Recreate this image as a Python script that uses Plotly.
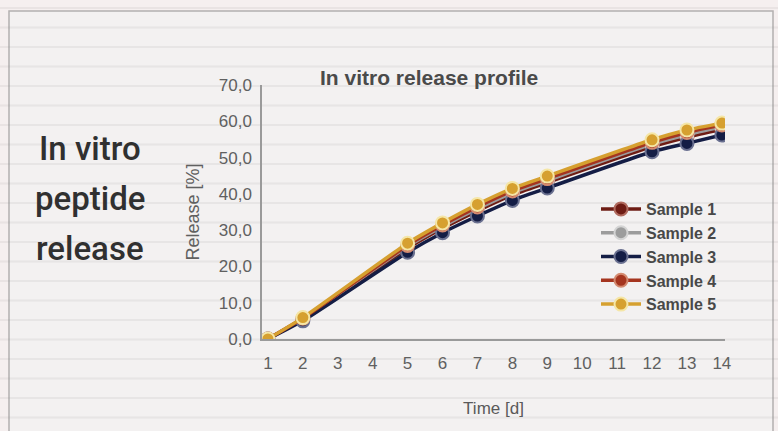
import plotly.graph_objects as go

# Release data (days vs cumulative release, %)
days = [1, 2, 5, 6, 7, 8, 9, 12, 13, 14]
sample_1 = [0.0, 5.5, 25.0, 30.5, 35.3, 39.7, 43.1, 53.0, 55.6, 57.8]
sample_2 = [0.0, 5.6, 25.5, 31.0, 35.9, 40.3, 43.7, 53.7, 56.3, 58.5]
sample_3 = [0.0, 5.0, 23.9, 29.3, 33.9, 38.2, 41.6, 51.6, 53.9, 56.2]
sample_4 = [0.0, 5.7, 25.8, 31.4, 36.4, 40.8, 44.2, 54.2, 56.9, 59.0]
sample_5 = [0.0, 5.9, 26.4, 32.0, 37.1, 41.5, 44.9, 54.9, 57.6, 59.5]

series_names = ["Sample 1", "Sample 2", "Sample 3", "Sample 4", "Sample 5"]
series_values = [sample_1, sample_2, sample_3, sample_4, sample_5]
line_colors = ["#6e1c14", "#9c9c9c", "#141d45", "#a5351f", "#d6a030"]
halo_colors = ["#b06a5e", "#d4d4d4", "#6a7090", "#d48a70", "#f5e6a6"]

y_ticks = [0, 10, 20, 30, 40, 50, 60, 70]
y_tick_labels = ["0,0", "10,0", "20,0", "30,0", "40,0", "50,0", "60,0", "70,0"]
x_ticks = list(range(1, 15))

side_title = ["In vitro", "peptide", "release"]

W, H = 778, 431
PL, PR, PT, PB = 262, 725, 85, 339  # plot-area edges in pixels


def px(x):
    """pixel column -> paper x"""
    return (x - PL) / (PR - PL)


def py(y):
    """pixel row (from top) -> paper y"""
    return (PB - y) / (PB - PT)


fig = go.Figure()
for name, vals, lc, hc in zip(series_names, series_values, line_colors, halo_colors):
    fig.add_trace(go.Scatter(
        x=days, y=vals, name=name, mode="lines+markers",
        line=dict(color=lc, width=3.5, shape="spline", smoothing=0.6),
        marker=dict(size=13, color=lc, line=dict(color=hc, width=2)),
    ))

shapes = []
# slide frame
shapes.append(dict(type="rect", xref="paper", yref="paper",
                   x0=px(9), x1=px(773), y0=py(H + 5), y1=py(11),
                   fillcolor="#f3f1f1", line=dict(color="#b3b0b0", width=1.5),
                   layer="below"))
# faint horizontal banding across the slide
y = 8
while y < H:
    shapes.append(dict(type="line", xref="paper", yref="paper",
                       x0=px(0), x1=px(W), y0=py(y), y1=py(y),
                       line=dict(color="rgba(140,140,140,0.11)", width=2),
                       layer="below"))
    y += 19.5

annotations = [
    dict(text="<b>In vitro release profile</b>", xref="paper", yref="paper",
         x=px(429), y=py(77), showarrow=False, xanchor="center", yanchor="middle",
         font=dict(family="Liberation Sans, Arial, sans-serif", size=21, color="#4a4a4a"),
         ),
]
for i, line in enumerate(side_title):
    annotations.append(dict(
        text=line, xref="paper", yref="paper",
        x=px(90), y=py(148 + 50 * i), showarrow=False, xanchor="center", yanchor="middle",
        font=dict(family="Roboto, Liberation Sans, Arial, sans-serif", weight=500,
                  size=33, color="#303030"),
    ))

fig.update_layout(
    width=W, height=H,
    margin=dict(l=PL, r=W - PR, t=PT, b=H - PB),
    paper_bgcolor="#f5efef",
    plot_bgcolor="rgba(0,0,0,0)",
    font=dict(family="Liberation Sans, Arial, sans-serif", color="#555555", size=17),
    shapes=shapes,
    annotations=annotations,
    showlegend=True,
    legend=dict(x=px(596), y=py(192), xanchor="left", yanchor="top",
                bgcolor="rgba(0,0,0,0)", itemwidth=40, tracegroupgap=0,
                font=dict(size=16, color="#484848", weight="bold",
                          family="Liberation Sans, Arial, sans-serif")),
    xaxis=dict(range=[0.83, 14.09], tickvals=x_ticks, showgrid=False, zeroline=False,
               showline=True, linecolor="#9a9a9a", linewidth=2, ticks="",
               ticklabelstandoff=8,
               tickfont=dict(size=17, color="#606060"),
               title=dict(text="Time [d]", font=dict(size=17, color="#5a5a5a"), standoff=30)),
    yaxis=dict(range=[0, 70], tickvals=y_ticks, ticktext=y_tick_labels, showgrid=False,
               zeroline=False, showline=True, linecolor="#9a9a9a", linewidth=1.5, ticks="",
               ticklabelstandoff=5,
               tickfont=dict(size=17, color="#606060"),
               title=dict(text="Release [%]", font=dict(size=18, color="#606060"), standoff=14)),
)

fig.write_html("out.html")
